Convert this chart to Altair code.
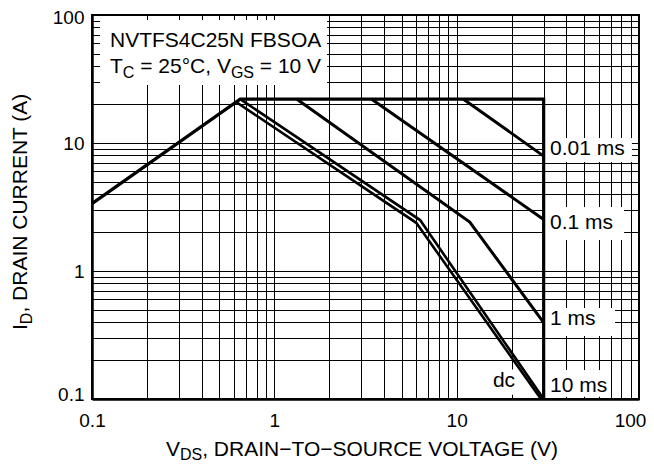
import altair as alt
import pandas as pd

FONT = "Liberation Sans"

# ---------------- data ----------------
GRID_VALUES = [0.1, 0.2, 0.3, 0.4, 0.5, 0.6, 0.7, 0.8, 0.9,
               1, 2, 3, 4, 5, 6, 7, 8, 9,
               10, 20, 30, 40, 50, 60, 70, 80, 90, 100]
LABELLED = [0.1, 1, 10, 100]

# safe operating area curves (V_DS [V], I_D [A])
limit_v = [0.1, 0.65, 30, 30]
limit_i = [3.36, 22, 22, 0.1]
ms001_v = [10.9, 30]
ms001_i = [22, 7.9]
ms01_v = [3.42, 30]
ms01_i = [22, 2.53]
ms1_v = [1.33, 11.8, 30]
ms1_i = [22, 2.41, 0.395]
ms10_v = [0.65, 6.3, 30]
ms10_i = [22, 2.5, 0.1]
dc_v = [0.62, 6.0, 29]
dc_i = [20.8, 2.38, 0.1]

# curve labels
label_text = ["0.01 ms", "0.1 ms", "1 ms", "10 ms", "dc"]
label_v = [32.5, 32.5, 32.5, 32.5, 15.8]
label_i = [8.06, 2.13, 0.379, 0.114, 0.1234]

# white boxes behind labels / title (data coordinates)
box_v1 = [30, 30, 30, 30, 15.6, 0.1106]
box_v2 = [91.5, 82.8, 73.9, 69.4, 20.8, 1.945]
box_i1 = [7.11, 1.746, 0.310, 0.104, 0.108, 28.4]
box_i2 = [10.94, 3.16, 0.514, 0.1686, 0.17, 91.4]

# ---------------- tables ----------------
rows = []
for name, vs, cs, w in [("limit", limit_v, limit_i, 3.2),
                        ("0.01 ms", ms001_v, ms001_i, 3.0),
                        ("0.1 ms", ms01_v, ms01_i, 3.0),
                        ("1 ms", ms1_v, ms1_i, 3.0),
                        ("10 ms", ms10_v, ms10_i, 2.6),
                        ("dc", dc_v, dc_i, 2.6)]:
    for k, (v, c) in enumerate(zip(vs, cs)):
        rows.append({"curve": name, "o": k, "v": v, "i": c, "w": w})
curves = pd.DataFrame(rows)
labels = pd.DataFrame({"t": label_text, "v": label_v, "i": label_i})
boxes = pd.DataFrame({"v": box_v1, "v2": box_v2, "i": box_i1, "i2": box_i2})

# ---------------- scales / axes ----------------
label_expr = ("(datum.value == 0.1 || datum.value == 1 || datum.value == 10 || "
              "datum.value == 100) ? format(datum.value, '~g') : ''")

xs = alt.Scale(type="log", domain=[0.1, 100], nice=False)
ys = alt.Scale(type="log", domain=[0.1, 100], nice=False)

common_axis = dict(values=GRID_VALUES, labelExpr=label_expr, grid=True,
                   gridColor="black", gridWidth=1, gridOpacity=1,
                   ticks=False, tickSize=0, domainColor="black", domainWidth=2.5,
                   labelFont=FONT, labelFontSize=19, labelColor="black",
                   labelOverlap=False, labelFlush=False, title=None)

xaxis = alt.Axis(orient="bottom", labelPadding=12,
                 labelOffset={"condition": {"test": "datum.value >= 100", "value": -9},
                              "value": 0},
                 **common_axis)
yaxis = alt.Axis(orient="left", labelPadding=8,
                 labelOffset={"condition": [{"test": "datum.value <= 0.1", "value": -5},
                                            {"test": "datum.value >= 100", "value": 2}],
                              "value": 0},
                 **common_axis)

X = alt.X("v:Q", scale=xs, axis=xaxis)
Y = alt.Y("i:Q", scale=ys, axis=yaxis)

# ---------------- layers ----------------
box_layer = alt.Chart(boxes).mark_rect(color="white", stroke=None).encode(
    x=X, x2="v2:Q", y=Y, y2="i2:Q")

line_layer = alt.Chart(curves).mark_line(
    color="black", strokeJoin="miter", strokeCap="butt").encode(
    x=X, y=Y, detail="curve:N", order="o:Q",
    strokeWidth=alt.StrokeWidth("w:Q", scale=None, legend=None))

label_layer = alt.Chart(labels).mark_text(
    align="left", baseline="alphabetic", font=FONT, fontSize=21, color="black").encode(
    x=X, y=Y, text="t:N")


def data_text(s, v, c, dx=0, dy=0, size=21):
    df = pd.DataFrame({"t": [s], "v": [v], "i": [c]})
    return alt.Chart(df).mark_text(
        align="left", baseline="alphabetic", font=FONT, fontSize=size,
        color="black", dx=dx, dy=dy).encode(x=X, y=Y, text="t:N")


def pixel_text(s, px, py, dx=0, dy=0, size=21, angle=0):
    df = pd.DataFrame({"t": [s]})
    kw = dict(align="left", baseline="alphabetic", font=FONT, fontSize=size,
              color="black", dx=dx, dy=dy)
    if angle:
        kw["angle"] = angle
    return alt.Chart(df).mark_text(**kw).encode(
        x=alt.value(px), y=alt.value(py), text="t:N")


title_layers = [
    data_text("NVTFS4C25N FBSOA", 0.1, 56.5, dx=18),
    data_text("T", 0.1, 35.0, dx=18),
    data_text("C", 0.1, 35.0, dx=30.8, dy=5, size=16),
    data_text("= 25\u00b0C, V", 0.1, 35.0, dx=48.2),
    data_text("GS", 0.1, 35.0, dx=138.9, dy=5, size=16),
    data_text("= 10 V", 0.1, 35.0, dx=167.8),
]

axis_title_layers = [
    # x axis title
    pixel_text("V", 74, 441),
    pixel_text("DS", 74, 441, dx=14, dy=4, size=16),
    pixel_text(", DRAIN\u2212TO\u2212SOURCE VOLTAGE (V)", 74, 441, dx=36.2),
    # y axis title (rotated)
    pixel_text("I", -65, 315, angle=270),
    pixel_text("D", -65, 315, dx=5.8, dy=5, size=16, angle=270),
    pixel_text(", DRAIN CURRENT (A)", -65, 315, dx=17.4, angle=270),
]

chart = alt.layer(box_layer, line_layer, label_layer, *title_layers,
                  *axis_title_layers).properties(
    width=547, height=384,
    padding={"left": 84, "top": 7, "right": 7, "bottom": 64},
    autosize=alt.AutoSizeParams(type="none"),
    background="white",
).configure_view(stroke="black", strokeWidth=2)

chart.save("out.html", embed_options={"renderer": "svg", "actions": False})
